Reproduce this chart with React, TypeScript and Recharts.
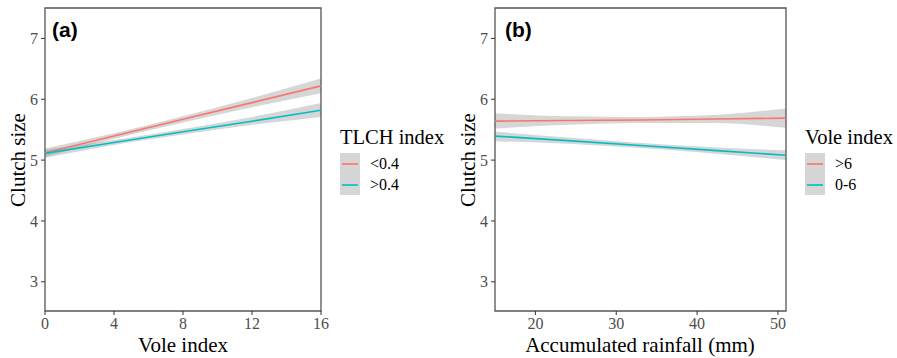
import React from 'react';
import { ComposedChart, Area, Line, XAxis, YAxis, ReferenceArea } from 'recharts';

// Panel (a): clutch size vs vole index, split by TLCH index
const voleX = [0, 4, 8, 12, 16];
const tlchLowFit = [5.12, 5.395, 5.67, 5.945, 6.22];
const tlchLowLo = [5.05, 5.35, 5.62, 5.87, 6.1];
const tlchLowHi = [5.19, 5.44, 5.72, 6.02, 6.34];
const tlchHighFit = [5.11, 5.29, 5.465, 5.64, 5.82];
const tlchHighLo = [5.04, 5.25, 5.42, 5.58, 5.71];
const tlchHighHi = [5.17, 5.33, 5.51, 5.71, 5.94];

// Panel (b): clutch size vs accumulated rainfall, split by vole index
const rainX = [15, 24, 33, 42, 51];
const voleHighFit = [5.64, 5.65, 5.66, 5.675, 5.69];
const voleHighLo = [5.52, 5.58, 5.61, 5.61, 5.53];
const voleHighHi = [5.77, 5.72, 5.71, 5.74, 5.85];
const voleLowFit = [5.395, 5.32, 5.24, 5.16, 5.08];
const voleLowLo = [5.31, 5.27, 5.2, 5.11, 5.0];
const voleLowHi = [5.47, 5.37, 5.28, 5.21, 5.16];

const yTicks = [3, 4, 5, 6, 7];
const voleTicks = [0, 4, 8, 12, 16];
const rainTicks = [20, 30, 40, 50];

const RED = '#F8766D';
const CYAN = '#00BFC4';
const BAND = '#999999';
const SERIF = '"Liberation Serif", "Times New Roman", serif';
const SANS = '"Liberation Sans", Arial, sans-serif';
const Y_DOMAIN: [number, number] = [2.52, 7.5];

const panelA = voleX.map((x, i) => ({
  x,
  fitR: tlchLowFit[i],
  bandR: [tlchLowLo[i], tlchLowHi[i]],
  fitC: tlchHighFit[i],
  bandC: [tlchHighLo[i], tlchHighHi[i]],
}));

const panelB = rainX.map((x, i) => ({
  x,
  fitR: voleHighFit[i],
  bandR: [voleHighLo[i], voleHighHi[i]],
  fitC: voleLowFit[i],
  bandC: [voleLowLo[i], voleLowHi[i]],
}));

const tickStyle = { fill: '#4D4D4D', fontSize: 16, fontFamily: SERIF };

interface PanelProps {
  data: any[];
  xDomain: [number, number];
  xTicks: number[];
  width: number;
}

const Panel: React.FC<PanelProps> = ({ data, xDomain, xTicks, width }) => (
  <ComposedChart width={width} height={358} data={data} margin={{ top: 8, right: 9, bottom: 0, left: 0 }}>
    <XAxis
      type="number"
      dataKey="x"
      domain={xDomain}
      ticks={xTicks}
      allowDataOverflow
      height={47}
      axisLine={false}
      tickSize={4}
      tickMargin={3}
      tickLine={{ stroke: '#333' }}
      tick={tickStyle}
    />
    <YAxis
      type="number"
      domain={Y_DOMAIN}
      ticks={yTicks}
      allowDataOverflow
      width={45}
      axisLine={false}
      tickSize={4}
      tickMargin={3}
      tickLine={{ stroke: '#333' }}
      tick={tickStyle}
    />
    <Area type="monotone" dataKey="bandR" stroke="none" fill={BAND} fillOpacity={0.4} isAnimationActive={false} />
    <Area type="monotone" dataKey="bandC" stroke="none" fill={BAND} fillOpacity={0.4} isAnimationActive={false} />
    <Line type="linear" dataKey="fitR" stroke={RED} strokeWidth={1.6} dot={false} isAnimationActive={false} />
    <Line type="linear" dataKey="fitC" stroke={CYAN} strokeWidth={1.6} dot={false} isAnimationActive={false} />
    <ReferenceArea
      x1={xDomain[0]}
      x2={xDomain[1]}
      y1={Y_DOMAIN[0]}
      y2={Y_DOMAIN[1]}
      fill="none"
      stroke="#555"
      strokeWidth={1.3}
      ifOverflow="visible"
    />
  </ComposedChart>
);

const abs = (left: number, top: number, extra: React.CSSProperties = {}): React.CSSProperties => ({
  position: 'absolute',
  left,
  top,
  whiteSpace: 'nowrap',
  lineHeight: 1,
  ...extra,
});

const YTitle: React.FC<{ cx: number; cy: number }> = ({ cx, cy }) => (
  <div
    style={abs(cx, cy, {
      fontFamily: SERIF,
      fontSize: 21,
      transform: 'translate(-50%, -50%) rotate(-90deg)',
    })}
  >
    Clutch size
  </div>
);

const Legend: React.FC<{ left: number; title: string; labels: string[] }> = ({ left, title, labels }) => (
  <>
    <div style={abs(left, 137, { fontFamily: SERIF, fontSize: 20.5, transform: 'translateY(-50%)' })}>{title}</div>
    <svg style={abs(left, 153)} width={20} height={42}>
      <rect x={0} y={0} width={20} height={42} fill={BAND} fillOpacity={0.4} />
      <line x1={2} x2={18} y1={11} y2={11} stroke={RED} strokeWidth={1.6} />
      <line x1={2} x2={18} y1={32} y2={32} stroke={CYAN} strokeWidth={1.6} />
    </svg>
    {labels.map((l, i) => (
      <div key={l} style={abs(left + 30, 164 + i * 21, { fontFamily: SERIF, fontSize: 16, transform: 'translateY(-50%)' })}>
        {l}
      </div>
    ))}
  </>
);

export default function App() {
  return (
    <div style={{ position: 'absolute', left: 0, top: 0, width: 897, height: 358, background: '#fff' }}>
      <div style={abs(0, 0)}>
        <Panel data={panelA} xDomain={[0, 16]} xTicks={voleTicks} width={330} />
      </div>
      <div style={abs(450, 0)}>
        <Panel data={panelB} xDomain={[15, 51]} xTicks={rainTicks} width={345} />
      </div>

      <div style={abs(52, 29, { fontFamily: SANS, fontWeight: 'bold', fontSize: 21, transform: 'translateY(-50%)' })}>(a)</div>
      <div style={abs(505, 29, { fontFamily: SANS, fontWeight: 'bold', fontSize: 21, transform: 'translateY(-50%)' })}>(b)</div>

      <YTitle cx={18} cy={160} />
      <YTitle cx={468} cy={160} />

      <div style={abs(183, 345, { fontFamily: SERIF, fontSize: 21, transform: 'translate(-50%, -50%)' })}>Vole index</div>
      <div style={abs(640, 345, { fontFamily: SERIF, fontSize: 21, transform: 'translate(-50%, -50%)' })}>
        Accumulated rainfall (mm)
      </div>

      <Legend left={340} title="TLCH index" labels={['<0.4', '>0.4']} />
      <Legend left={805} title="Vole index" labels={['>6', '0-6']} />
    </div>
  );
}
